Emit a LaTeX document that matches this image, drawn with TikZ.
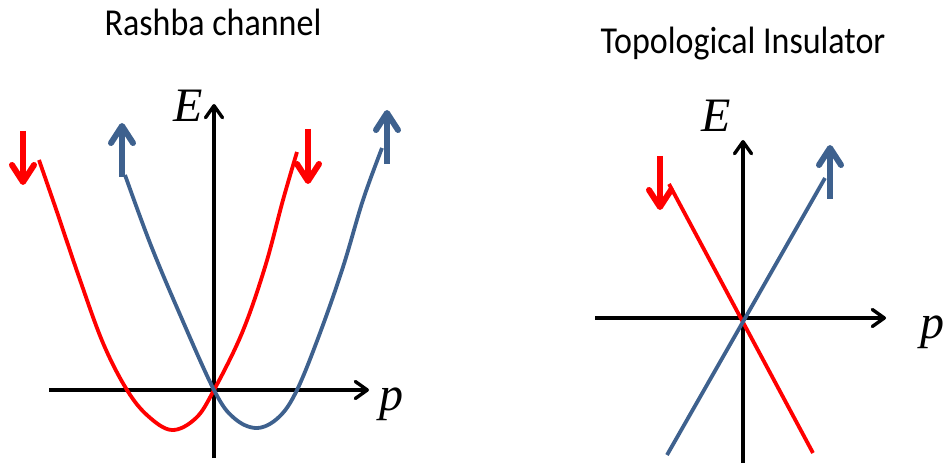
\documentclass[tikz,border=0pt]{standalone}
\usepackage{fontspec}
\setmainfont{Liberation Serif}
\newfontfamily\titlefont{Carlito}
\usepackage{tikz}
\usetikzlibrary{arrows.meta}
\definecolor{bandred}{RGB}{255,0,0}
\definecolor{bandblue}{RGB}{62,97,142}

\begin{document}
\begin{tikzpicture}[
  x=1pt, y=-1pt,
  title/.style={font=\titlefont\fontsize{34}{40}\selectfont, anchor=center},
  axislabel/.style={font=\fontsize{48}{54}\selectfont\itshape, anchor=base},
  axis/.style={line width=3.4pt, -{Straight Barb[length=12pt, width=17pt, line cap=round, line join=round]}},
  band/.style={line width=3.8pt},
  spin/.style={line width=6pt, -{Straight Barb[length=17pt, width=22pt, line cap=round, line join=round]}}
]
  \useasboundingbox (0,0) rectangle (947,465);

  % Left panel: Rashba channel
  \node[title] (rtitle) at (213,22) {\scalebox{1}[1.12]{Rashba channel}};
  \coordinate (rxl) at (49,390);
  \coordinate (rxr) at (369,390);
  \coordinate (ryb) at (214,458);
  \coordinate (ryt) at (214,104);
  \draw[axis] (rxl) -- (rxr);
  \draw[axis] (ryb) -- (ryt);
  \node[axislabel] (rE) at (188,122) {E};
  \node[axislabel] (rp) at (391,410) {p};

  \draw[band, bandred] plot[smooth, tension=0.6] coordinates {
    (39,160) (57,212) (79,277) (103,343) (127,390) (148,416) (172,430)
    (196,418) (214,390) (242,333) (265,267) (283,200) (297,152)};
  \draw[band, bandblue] plot[smooth, tension=0.6] coordinates {
    (125,175) (150,243) (178,310) (214,390) (234,418) (257,428)
    (279,417) (297,390) (320,333) (343,267) (363,200) (382,148)};

  % spins
  \coordinate (s1a) at (23,131);  \coordinate (s1b) at (23,185);
  \coordinate (s2a) at (122,177); \coordinate (s2b) at (122,123);
  \coordinate (s3a) at (308,129); \coordinate (s3b) at (308,184);
  \coordinate (s4a) at (387,164); \coordinate (s4b) at (387,110);
  \draw[spin, bandred] (s1a) -- (s1b);
  \draw[spin, bandblue] (s2a) -- (s2b);
  \draw[spin, bandred] (s3a) -- (s3b);
  \draw[spin, bandblue] (s4a) -- (s4b);

  % Right panel: Topological Insulator
  \node[title] (ttitle) at (743,44) {\scalebox{1}[1.12]{Topological Insulator}};
  \coordinate (txl) at (595,318);
  \coordinate (txr) at (886,318);
  \coordinate (tyb) at (743,463);
  \coordinate (tyt) at (743,140);
  \draw[axis] (txl) -- (txr);
  \draw[axis] (tyb) -- (tyt);
  \node[axislabel] (tE) at (716,132) {E};
  \node[axislabel] (tp) at (932,338) {p};

  \coordinate (tra) at (669,184); \coordinate (trb) at (813,453);
  \coordinate (tba) at (667,455); \coordinate (tbb) at (825,178);
  \draw[band, bandred] (tra) -- (trb);
  \draw[band, bandblue] (tba) -- (tbb);

  \coordinate (s5a) at (660,156); \coordinate (s5b) at (660,210);
  \coordinate (s6a) at (830,199); \coordinate (s6b) at (830,145);
  \draw[spin, bandred] (s5a) -- (s5b);
  \draw[spin, bandblue] (s6a) -- (s6b);

\end{tikzpicture}
\end{document}
